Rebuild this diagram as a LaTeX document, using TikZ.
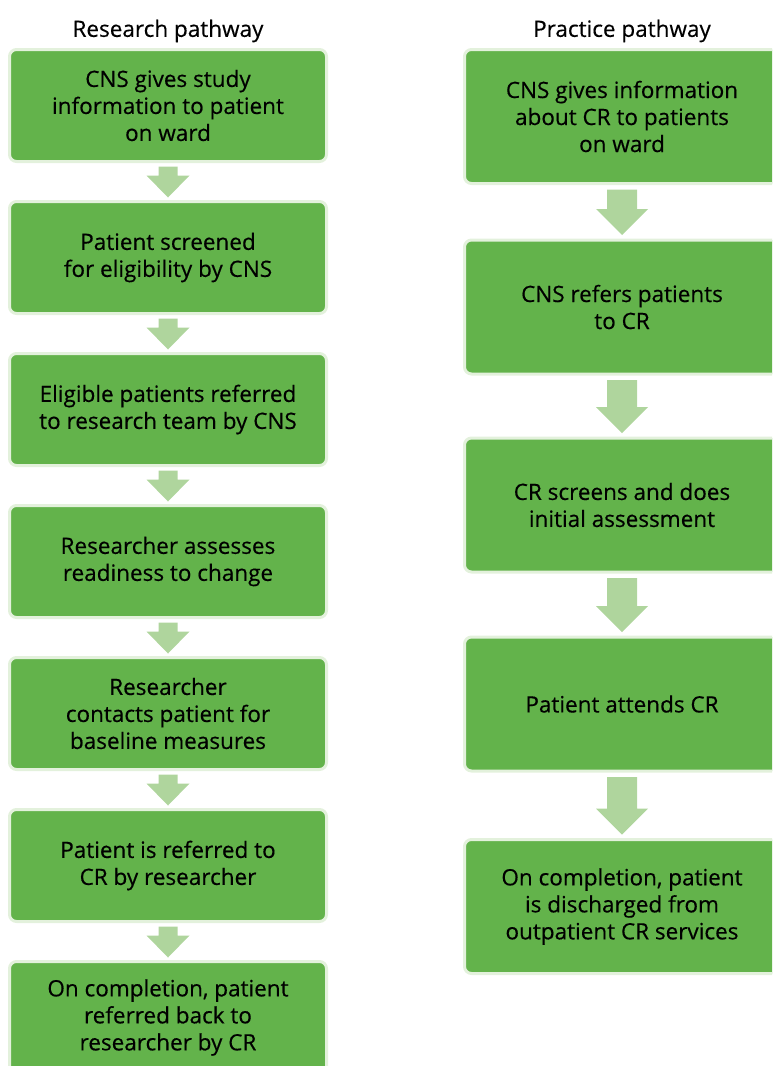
\documentclass[tikz,border=0pt]{standalone}
\usepackage{fontspec}
\setmainfont[FakeBold=0.4]{Open Sans}
\definecolor{boxgreen}{HTML}{63B34B}
\definecolor{edgegreen}{HTML}{E3F1DC}
\definecolor{arrgreen}{HTML}{AFD59D}
\begin{document}
\begin{tikzpicture}[x=1pt,y=-1pt,
  lbox/.style={draw=edgegreen, line width=3pt, fill=boxgreen, rounded corners=7pt,
    minimum width=317pt, minimum height=112pt, inner sep=0pt, align=center,
    font=\fontsize{22.5}{27}\selectfont},
  rbox/.style={lbox, minimum width=315pt, minimum height=134pt},
  head/.style={font=\fontsize{22.5}{27}\selectfont, inner sep=0pt},
  arr/.style={fill=arrgreen, draw=none}]
\useasboundingbox (0,0) rectangle (772,1066);
\clip (0,0) rectangle (772,1066);
\node[head] (lh) at (168,31) {Research pathway};
\node[head] (rh) at (622,31) {Practice pathway};
\node[lbox] (l1) at (168,105.5) {CNS gives study\\information to patient\\on ward};
\node[lbox] (l2) at (168,257.5) {Patient screened\\for eligibility by CNS};
\node[lbox] (l3) at (168,409.5) {Eligible patients referred\\to research team by CNS};
\node[lbox] (l4) at (168,561.5) {Researcher assesses\\readiness to change};
\node[lbox] (l5) at (168,713.5) {Researcher\\contacts patient for\\baseline measures};
\node[lbox] (l6) at (168,865.5) {Patient is referred to\\CR by researcher};
\node[lbox] (l7) at (168,1017.5) {On completion, patient\\referred back to\\researcher by CR};
\node[rbox] (r1) at (622,116.5) {CNS gives information\\about CR to patients\\on ward};
\node[rbox] (r2) at (622,307) {CNS refers patients\\to CR};
\node[rbox] (r3) at (622,505) {CR screens and does\\initial assessment};
\node[rbox] (r4) at (622,704) {Patient attends CR};
\node[rbox] (r5) at (622,906.5) {On completion, patient\\is discharged from\\outpatient CR services};
\foreach \a/\b in {l1/l2,l2/l3,l3/l4,l4/l5,l5/l6,l6/l7}{
  \fill[arr] ([xshift=-9.5pt,yshift=-3.5pt]\a.south) -- ([xshift=9.5pt,yshift=-3.5pt]\a.south)
    -- ([xshift=9.5pt,yshift=24.5pt]\b.north) -- ([xshift=21.5pt,yshift=24.5pt]\b.north)
    -- ([yshift=2.5pt]\b.north) -- ([xshift=-21.5pt,yshift=24.5pt]\b.north)
    -- ([xshift=-9.5pt,yshift=24.5pt]\b.north) -- cycle;
}
\foreach \a/\b in {r1/r2,r2/r3,r3/r4,r4/r5}{
  \fill[arr] ([xshift=-15pt,yshift=-4.5pt]\a.south) -- ([xshift=15pt,yshift=-4.5pt]\a.south)
    -- ([xshift=15pt,yshift=29.5pt]\b.north) -- ([xshift=26pt,yshift=29.5pt]\b.north)
    -- ([yshift=3.5pt]\b.north) -- ([xshift=-26pt,yshift=29.5pt]\b.north)
    -- ([xshift=-15pt,yshift=29.5pt]\b.north) -- cycle;
}
\end{tikzpicture}
\end{document}
